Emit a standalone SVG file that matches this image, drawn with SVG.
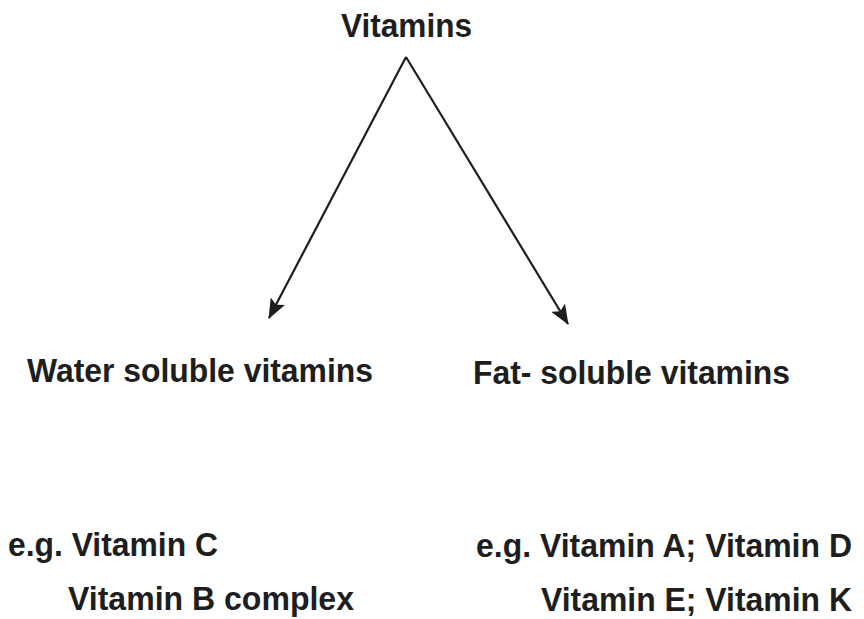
<svg xmlns="http://www.w3.org/2000/svg" width="864" height="619" viewBox="0 0 864 619">
<style>
text{font-family:"Liberation Sans",Arial,sans-serif;font-weight:bold;font-size:34px;fill:#1e1e1e}
.c{fill:none;stroke:#1e1e1e;stroke-width:2.2}
</style>
<defs>
<marker id="ah" viewBox="0 0 20 16" refX="19" refY="8" markerWidth="20" markerHeight="16" markerUnits="userSpaceOnUse" orient="auto">
<path d="M0,0 L20,8 L0,16 L4,8 Z" fill="#1e1e1e"/>
</marker>
</defs>
<rect width="864" height="619" fill="#ffffff"/>
<g id="connectors">
<line class="c" x1="406" y1="57" x2="269" y2="318" marker-end="url(#ah)"/>
<line class="c" x1="406" y1="57" x2="568" y2="324" marker-end="url(#ah)"/>
</g>
<g id="vitamins"><text x="341" y="37" textLength="131" lengthAdjust="spacingAndGlyphs">Vitamins</text></g>
<g id="water"><text x="27" y="382" textLength="346" lengthAdjust="spacingAndGlyphs">Water soluble vitamins</text></g>
<g id="fat"><text x="473" y="384" textLength="317" lengthAdjust="spacingAndGlyphs">Fat- soluble vitamins</text></g>
<g id="water-eg">
<text x="8" y="556" textLength="210" lengthAdjust="spacingAndGlyphs">e.g. Vitamin C</text>
<text x="68" y="610" textLength="286" lengthAdjust="spacingAndGlyphs">Vitamin B complex</text>
</g>
<g id="fat-eg">
<text x="476" y="557" textLength="376" lengthAdjust="spacingAndGlyphs">e.g. Vitamin A; Vitamin D</text>
<text x="541" y="611" textLength="311" lengthAdjust="spacingAndGlyphs">Vitamin E; Vitamin K</text>
</g>
</svg>
